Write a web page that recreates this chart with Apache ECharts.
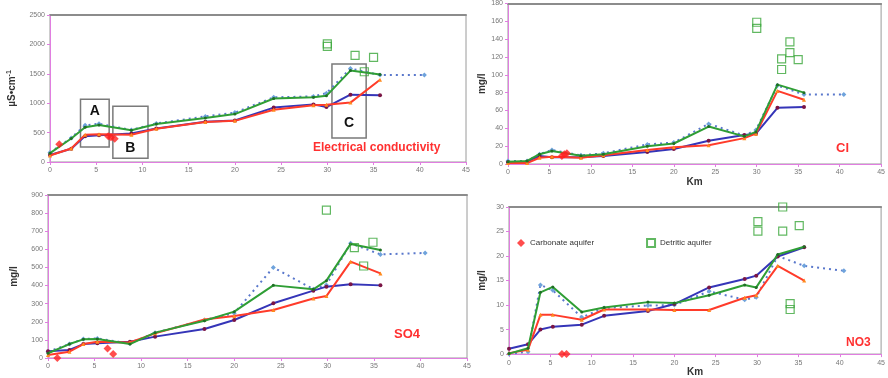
<!DOCTYPE html>
<html>
<head>
<meta charset="utf-8">
<script src="https://cdn.jsdelivr.net/npm/echarts@6/dist/echarts.min.js"></script>
<style>html,body{margin:0;padding:0;background:#fff}#c{width:888px;height:378px}</style>
</head>
<body>
<div id="c"></div>
<script>
// ---- shared km positions ----
const km = [0, 2.3, 3.8, 5.3, 8.8, 11.5, 16.8, 20, 24.2, 28.5, 29.9, 32.5, 35.7];
const kmDot = [0, 2.3, 3.8, 5.3, 8.8, 11.5, 16.8, 20, 24.2, 28.5, 29.9, 32.5, 35.7, 40.5];
const xTicks = [0, 5, 10, 15, 20, 25, 30, 35, 40, 45];

// ---- Electrical conductivity ----
const ecGreen = [150, 400, 590, 630, 540, 645, 750, 815, 1080, 1100, 1125, 1555, 1490];
const ecDot   = [160, 410, 625, 650, 545, 655, 775, 840, 1100, 1115, 1170, 1590, 1480, 1480];
const ecBlue  = [120, 225, 440, 455, 485, 570, 685, 705, 925, 980, 935, 1145, 1135];
const ecRed   = [110, 230, 465, 470, 465, 565, 680, 700, 890, 965, 975, 1010, 1400];
const ecCarb  = [[1, 300], [6.3, 440], [6.6, 420], [7.0, 395]];
const ecDet   = [[30, 2010], [30, 1965], [33, 1815], [34, 1535], [35, 1780]];
const ecTicks = [0, 500, 1000, 1500, 2000, 2500];
const ecBoxes = [
  {name: 'A', x: [3.3, 6.4], y: [256, 1068]},
  {name: 'B', x: [6.8, 10.6], y: [63, 950]},
  {name: 'C', x: [30.5, 34.2], y: [410, 1665]}
];

// ---- Cl ----
const clGreen = [2.6, 3.4, 11, 14.5, 9.3, 11, 20, 23, 42, 31, 36, 89, 80];
const clDot   = [3.4, 3.4, 11, 15.7, 9.7, 12, 22, 24, 45, 32, 38, 88, 78, 78];
const clBlue  = [2, 2.6, 9, 7.5, 7.5, 9, 13.4, 16.8, 26, 32.5, 34, 63, 64];
const clRed   = [1, 1, 7, 8, 7, 9.7, 15.7, 18.7, 21, 29, 34, 82, 72];
const clCarb  = [[6.5, 9], [6.8, 11], [7.1, 12]];
const clDet   = [[30, 159], [30, 152], [33, 118], [33, 106], [34, 137], [34, 125], [35, 117]];
const clTicks = [0, 20, 40, 60, 80, 100, 120, 140, 160, 180];

// ---- SO4 ----
const so4Green = [26, 77, 103, 105, 77, 140, 206, 256, 401, 379, 427, 630, 596];
const so4Dot   = [35, 77, 105, 108, 80, 140, 210, 247, 500, 380, 403, 633, 572, 580];
const so4Blue  = [37, 44, 77, 81, 90, 118, 160, 210, 302, 372, 394, 407, 401];
const so4Red   = [17, 35, 77, 90, 86, 136, 213, 232, 265, 329, 342, 532, 467];
const so4Carb  = [[1, 0], [6.4, 53], [7.0, 22]];
const so4Det   = [[29.9, 817], [32.9, 609], [33.9, 508], [34.9, 639]];
const so4Ticks = [0, 100, 200, 300, 400, 500, 600, 700, 800, 900];

// ---- NO3 ----
const no3Green = [0.1, 1.2, 12.6, 13.7, 8.6, 9.5, 10.6, 10.4, 12, 14.1, 13.6, 20.3, 21.9];
const no3Dot   = [0, 0.5, 14.1, 13, 7.5, 9.4, 9.9, 10, 12.8, 11.1, 11.6, 20, 18, 17];
const no3Blue  = [1.1, 2, 5, 5.6, 6, 7.8, 8.8, 10.2, 13.6, 15.3, 16, 19.9, 21.8];
const no3Red   = [0.2, 0.9, 8, 8, 7, 9.1, 9.1, 9, 9, 11.5, 12, 18, 15];
const no3Carb  = [[6.4, 0], [6.95, 0]];
const no3Det   = [[30.1, 27], [30.1, 25.1], [33.1, 30], [33.1, 25.1], [35.1, 26.2], [34, 10.3], [34, 9.1]];
const no3Ticks = [0, 5, 10, 15, 20, 25, 30];

const panelTitles = ['Electrical conductivity', 'Cl', 'SO4', 'NO3'];
const legendNames = ['Carbonate aquifer', 'Detritic aquifer'];

// ---- styles ----
const MAG = '#e07ee0';
const FONT = 'Liberation Sans, Arial, sans-serif';
const C_GREEN = '#2f9e35', C_BLUE = '#3535b8', C_DOT = '#5a78cc', C_RED = '#ff3b2a';

const zip = (xs, ys) => ys.map((v, i) => [xs[i], v]);

const panels = [
  {grid: {left: 50, top: 15, width: 416, height: 147}, ticks: ecTicks, g: ecGreen, d: ecDot, b: ecBlue, r: ecRed, carb: ecCarb, det: ecDet,
   yName: '{a|µS•cm}{s|-1}', yGap: 31, xName: ''},
  {grid: {left: 508, top: 3, width: 376, height: 161}, ticks: clTicks, g: clGreen, d: clDot, b: clBlue, r: clRed, carb: clCarb, det: clDet,
   yName: 'mg/l', yGap: 18, xName: 'Km', xGap: 13},
  {grid: {left: 48, top: 195, width: 419, height: 163}, ticks: so4Ticks, g: so4Green, d: so4Dot, b: so4Blue, r: so4Red, carb: so4Carb, det: so4Det,
   yName: 'mg/l', yGap: 29, xName: ''},
  {grid: {left: 509, top: 207, width: 376, height: 152}, ticks: no3Ticks, g: no3Green, d: no3Dot, b: no3Blue, r: no3Red, carb: no3Carb, det: no3Det,
   yName: 'mg/l', yGap: 22, xName: 'Km', xGap: 6}
];

const grid = [], xAxis = [], yAxis = [], series = [];
panels.forEach((p, i) => {
  const t = p.ticks;
  grid.push(Object.assign({show: true, borderColor: '#9a9a9a', borderWidth: 1}, p.grid));
  xAxis.push({
    gridIndex: i, type: 'value', min: xTicks[0], max: xTicks[xTicks.length - 1], interval: 5,
    name: p.xName, nameLocation: 'middle', nameGap: p.xGap || 0,
    nameTextStyle: {fontFamily: FONT, fontWeight: 'bold', fontSize: 10, color: '#333'},
    axisLine: {lineStyle: {color: MAG, width: 1}}, axisTick: {show: true, length: 3, lineStyle: {color: MAG}},
    axisLabel: {fontSize: 7, color: '#777', fontFamily: FONT, margin: 5, formatter: v => String(v)}, splitLine: {show: false}
  });
  xAxis.push({
    gridIndex: i, type: 'value', position: 'top', min: xTicks[0], max: xTicks[xTicks.length - 1],
    axisLine: {show: true, onZero: false, lineStyle: {color: '#8c8c8c', width: 2}}, axisTick: {show: false},
    axisLabel: {show: false}, splitLine: {show: false}
  });
  yAxis.push({
    gridIndex: i, type: 'value', min: t[0], max: t[t.length - 1], interval: t[1] - t[0],
    name: p.yName, nameLocation: 'middle', nameRotate: 90, nameGap: p.yGap,
    nameTextStyle: {fontFamily: FONT, fontWeight: 'bold', fontSize: 10, color: '#333',
      rich: {a: {fontFamily: FONT, fontWeight: 'bold', fontSize: 10, color: '#333'},
             s: {fontFamily: FONT, fontWeight: 'bold', fontSize: 7, color: '#333', verticalAlign: 'top', padding: [0, 0, 6, 0]}}},
    axisLine: {show: true, lineStyle: {color: MAG, width: 1}}, axisTick: {show: true, length: 3, lineStyle: {color: MAG}},
    axisLabel: {fontSize: 7, color: '#777', fontFamily: FONT, margin: 5, formatter: v => String(v)}, splitLine: {show: false}
  });
  const xi = i * 2;
  series.push({type: 'line', xAxisIndex: xi, yAxisIndex: i, data: zip(kmDot, p.d), symbol: 'diamond', symbolSize: 5,
    itemStyle: {color: '#6fa3dc'}, lineStyle: {color: C_DOT, width: 2, type: [2, 4]}, z: 2, silent: true});
  series.push({type: 'line', xAxisIndex: xi, yAxisIndex: i, data: zip(km, p.b), symbol: 'circle', symbolSize: 4,
    itemStyle: {color: '#7a1545'}, lineStyle: {color: C_BLUE, width: 2}, z: 3, silent: true});
  series.push({type: 'line', xAxisIndex: xi, yAxisIndex: i, data: zip(km, p.r), symbol: 'triangle', symbolSize: 4,
    itemStyle: {color: '#ff8a1e'}, lineStyle: {color: C_RED, width: 2}, z: 4, silent: true});
  series.push({type: 'line', xAxisIndex: xi, yAxisIndex: i, data: zip(km, p.g), symbol: 'circle', symbolSize: 3,
    itemStyle: {color: '#1f6e25'}, lineStyle: {color: C_GREEN, width: 2}, z: 5, silent: true});
  series.push({name: legendNames[0], type: 'scatter', xAxisIndex: xi, yAxisIndex: i, data: p.carb, symbol: 'diamond', symbolSize: 8,
    itemStyle: {color: '#ff2020'}, z: 6, clip: false});
  series.push({name: legendNames[1], type: 'scatter', xAxisIndex: xi, yAxisIndex: i, data: p.det, symbol: 'rect', symbolSize: 8,
    itemStyle: {color: 'rgba(255,255,255,0)', borderColor: '#3aa63a', borderWidth: 1.2}, z: 6, clip: false});
});

// boxes A, B, C on the conductivity panel
series.push({type: 'line', xAxisIndex: 0, yAxisIndex: 0, data: [], silent: true, z: 7,
  markArea: {silent: true,
    itemStyle: {color: 'rgba(0,0,0,0)', borderColor: '#7a7a7a', borderWidth: 1.5},
    data: ecBoxes.map((bx, k) => [
      {name: bx.name, coord: [bx.x[0], bx.y[1]],
       label: {show: true, fontFamily: FONT, fontWeight: 'bold', fontSize: 14, color: '#111',
         position: k === 0 ? 'insideTop' : 'insideBottom', distance: k === 0 ? 6 : (k === 1 ? 4 : 9)}},
      {coord: [bx.x[1], bx.y[0]]}
    ])
  }
});

const titleStyle = {fontFamily: FONT, fontWeight: 'bold', fill: '#ff3030'};
const option = {
  animation: false,
  grid, xAxis, yAxis, series,
  legend: {left: 512, top: 233, itemWidth: 8, itemHeight: 8, itemGap: 52, data: legendNames,
    textStyle: {fontFamily: FONT, fontSize: 8, color: '#333'}, selectedMode: false},
  graphic: [
    {type: 'text', left: 313, top: 142, style: Object.assign({text: panelTitles[0], fontSize: 12}, titleStyle)},
    {type: 'text', left: 836, top: 142, style: Object.assign({text: panelTitles[1], fontSize: 13}, titleStyle)},
    {type: 'text', left: 394, top: 328, style: Object.assign({text: panelTitles[2], fontSize: 13}, titleStyle)},
    {type: 'text', left: 846, top: 337, style: Object.assign({text: panelTitles[3], fontSize: 12}, titleStyle)}
  ]
};
const chart = echarts.init(document.getElementById('c'), null, {renderer: 'canvas'});
chart.setOption(option);
</script>
</body>
</html>
